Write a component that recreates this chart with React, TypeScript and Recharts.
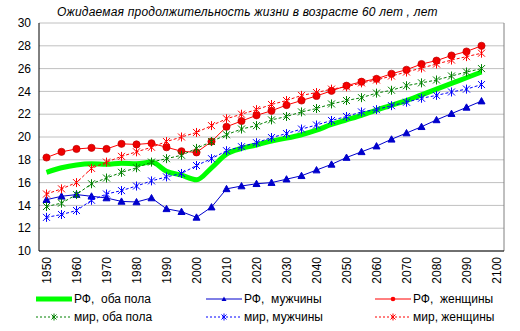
import { CartesianGrid, Line, LineChart, ReferenceLine, XAxis, YAxis } from "recharts";

const FONT = '"Liberation Sans", Arial, sans-serif';

const years = [
  1950, 1955, 1960, 1965, 1970, 1975, 1980, 1985, 1990, 1995, 2000, 2005, 2010, 2015, 2020,
  2025, 2030, 2035, 2040, 2045, 2050, 2055, 2060, 2065, 2070, 2075, 2080, 2085, 2090, 2095,
];
const rfBoth = [
  16.9, 17.3, 17.55, 17.65, 17.6, 17.7, 17.65, 17.8, 17.0, 16.65, 16.25, 17.3, 18.5, 19.0, 19.3,
  19.65, 19.9, 20.2, 20.6, 21.1, 21.5, 21.9, 22.35, 22.8, 23.2, 23.7, 24.2, 24.7, 25.2, 25.7,
];
const rfMen = [
  14.5, 14.8, 14.95, 14.8, 14.65, 14.35, 14.3, 14.65, 13.7, 13.45, 12.95, 13.85, 15.45, 15.7, 15.9,
  16.0, 16.3, 16.6, 17.1, 17.6, 18.2, 18.7, 19.2, 19.8, 20.35, 20.9, 21.5, 22.05, 22.6, 23.15,
];
const rfWomen = [
  18.2, 18.7, 18.95, 19.05, 18.95, 19.4, 19.35, 19.45, 19.1, 18.75, 18.65, 19.6, 20.9, 21.4, 21.9,
  22.3, 22.8, 23.2, 23.6, 24.05, 24.5, 24.85, 25.1, 25.55, 25.9, 26.4, 26.7, 27.15, 27.5, 28.0,
];
const worldBoth = [
  13.9, 14.2, 14.95, 15.9, 16.4, 16.9, 17.3, 17.8, 18.1, 18.4, 19.0, 19.6, 20.2, 20.7, 21.0,
  21.5, 21.8, 22.2, 22.5, 22.9, 23.2, 23.45, 23.85, 24.1, 24.5, 24.75, 25.0, 25.35, 25.7, 26.0,
];
const worldMen = [
  12.95, 13.2, 13.55, 14.45, 15.0, 15.3, 15.7, 16.15, 16.5, 16.8, 17.5, 18.1, 18.8, 19.15, 19.5,
  19.95, 20.3, 20.7, 21.05, 21.45, 21.8, 22.2, 22.4, 22.75, 23.05, 23.4, 23.65, 23.95, 24.2, 24.6,
];
const worldWomen = [
  15.0, 15.45, 16.0, 17.25, 17.8, 18.3, 18.7, 19.1, 19.6, 20.0, 20.4, 21.0, 21.6, 22.0, 22.4,
  22.85, 23.2, 23.65, 23.9, 24.2, 24.4, 24.75, 25.0, 25.35, 25.7, 26.05, 26.4, 26.75, 27.05, 27.35,
];

const xTicks = [1950, 1960, 1970, 1980, 1990, 2000, 2010, 2020, 2030, 2040, 2050, 2060, 2070, 2080, 2090, 2100];
const yTicks = [10, 12, 14, 16, 18, 20, 22, 24, 26, 28, 30];

const TITLE = "Ожидаемая продолжительность жизни в возрасте 60 лет , лет";

const data = years.map((year, i) => ({
  year,
  rfBoth: rfBoth[i],
  rfMen: rfMen[i],
  rfWomen: rfWomen[i],
  worldBoth: worldBoth[i],
  worldMen: worldMen[i],
  worldWomen: worldWomen[i],
}));

// marker shapes, excel-ish
function triangle(color: string, s = 3.5) {
  return (p: any) => {
    if (p.cx == null || p.cy == null) return <g key={p.index} />;
    const { cx, cy } = p;
    return (
      <polygon
        key={p.index}
        points={`${cx},${cy - s} ${cx + s},${cy + s * 0.8} ${cx - s},${cy + s * 0.8}`}
        fill={color}
        stroke={color}
      />
    );
  };
}

function circle(color: string, r = 3.6) {
  return (p: any) => {
    if (p.cx == null || p.cy == null) return <g key={p.index} />;
    return <circle key={p.index} cx={p.cx} cy={p.cy} r={r} fill={color} stroke="#c00000" strokeWidth={0.7} />;
  };
}

function star(color: string, s = 3.5) {
  return (p: any) => {
    if (p.cx == null || p.cy == null) return <g key={p.index} />;
    const { cx, cy } = p;
    return (
      <g key={p.index} stroke={color} strokeWidth={1}>
        <line x1={cx - s} y1={cy - s} x2={cx + s} y2={cy + s} />
        <line x1={cx - s} y1={cy + s} x2={cx + s} y2={cy - s} />
        <line x1={cx} y1={cy - s - 1} x2={cx} y2={cy + s + 1} />
      </g>
    );
  };
}

function XTick(props: any) {
  const { x, y, payload } = props;
  return (
    <g transform={`translate(${x},${y})`}>
      <text transform="rotate(-90)" textAnchor="end" x={0} y={4} fontSize={12} fill="#000" fontFamily={FONT}>
        {payload.value}
      </text>
    </g>
  );
}

const legendItems = [
  { label: "РФ,  оба пола", color: "#00ff00", width: 5, dash: undefined, mark: "none" },
  { label: "РФ,  мужчины", color: "#0000cc", width: 1, dash: undefined, mark: "tri" },
  { label: "РФ,  женщины", color: "#ff0000", width: 1, dash: undefined, mark: "dot" },
  { label: "мир, оба пола", color: "#008000", width: 1, dash: "2 2", mark: "star" },
  { label: "мир, мужчины", color: "#0000ff", width: 1, dash: "2 2", mark: "star" },
  { label: "мир, женщины", color: "#ff0000", width: 1, dash: "2 2", mark: "star" },
];

function LegendSample({ item }: { item: (typeof legendItems)[number] }) {
  const c = item.color;
  return (
    <svg width={38} height={12} style={{ display: "block" }}>
      <line x1={1} y1={6} x2={37} y2={6} stroke={c} strokeWidth={item.width} strokeDasharray={item.dash} />
      {item.mark === "tri" && <polygon points="19,3.5 21.5,8 16.5,8" fill={c} />}
      {item.mark === "dot" && <circle cx={19} cy={6} r={2.3} fill={c} />}
      {item.mark === "star" && (
        <g stroke={c} strokeWidth={1}>
          <line x1={16.5} y1={3.5} x2={21.5} y2={8.5} />
          <line x1={16.5} y1={8.5} x2={21.5} y2={3.5} />
          <line x1={19} y1={2.5} x2={19} y2={9.5} />
        </g>
      )}
    </svg>
  );
}

export default function App() {
  const colLeft = [35, 205, 374];
  return (
    <div
      style={{
        position: "absolute",
        left: 0,
        top: 0,
        width: 520,
        height: 331,
        background: "#fff",
        fontFamily: FONT,
      }}
    >
      <div
        style={{
          position: "absolute",
          left: 57,
          top: 5,
          fontSize: 12,
          fontStyle: "italic",
          letterSpacing: 0.2,
          whiteSpace: "nowrap",
        }}
      >
        {TITLE}
      </div>
      <LineChart width={520} height={331} data={data} margin={{ top: 23, right: 16, bottom: 40, left: 0 }}>
        <CartesianGrid vertical={false} stroke="#c0c0c0" />
        <XAxis
          type="number"
          dataKey="year"
          domain={[1947.5, 2102.5]}
          ticks={xTicks}
          interval={0}
          tickLine={false}
          tickSize={0}
          tickMargin={6}
          height={40}
          axisLine={{ stroke: "#000" }}
          tick={<XTick />}
        />
        <YAxis
          domain={[10, 30]}
          ticks={yTicks}
          interval={0}
          width={39}
          tickLine={false}
          axisLine={{ stroke: "#000" }}
          tick={{ fontSize: 12, fill: "#000", fontFamily: FONT }}
        />
        <ReferenceLine x={2102.5} stroke="#808080" />
        <Line type="monotone" dataKey="rfBoth" stroke="#00ff00" strokeWidth={5} dot={false} isAnimationActive={false} />
        <Line type="linear" dataKey="rfMen" stroke="#0000cc" strokeWidth={1} dot={triangle("#0000cc")} isAnimationActive={false} />
        <Line type="linear" dataKey="rfWomen" stroke="#ff0000" strokeWidth={1} dot={circle("#ee0000")} isAnimationActive={false} />
        <Line type="linear" dataKey="worldBoth" stroke="#008000" strokeWidth={1} strokeDasharray="3 2" dot={star("#008000")} isAnimationActive={false} />
        <Line type="linear" dataKey="worldMen" stroke="#0000ff" strokeWidth={1} strokeDasharray="3 2" dot={star("#0000ff")} isAnimationActive={false} />
        <Line type="linear" dataKey="worldWomen" stroke="#ff0000" strokeWidth={1} strokeDasharray="3 2" dot={star("#ff0000")} isAnimationActive={false} />
      </LineChart>
      {legendItems.map((item, i) => (
        <div
          key={item.label}
          style={{
            position: "absolute",
            left: colLeft[i % 3],
            top: i < 3 ? 292 : 310,
            display: "flex",
            alignItems: "center",
            fontSize: 12,
            whiteSpace: "pre",
            lineHeight: "14px",
          }}
        >
          <LegendSample item={item} />
          <span style={{ marginLeft: 1 }}>{item.label}</span>
        </div>
      ))}
    </div>
  );
}
